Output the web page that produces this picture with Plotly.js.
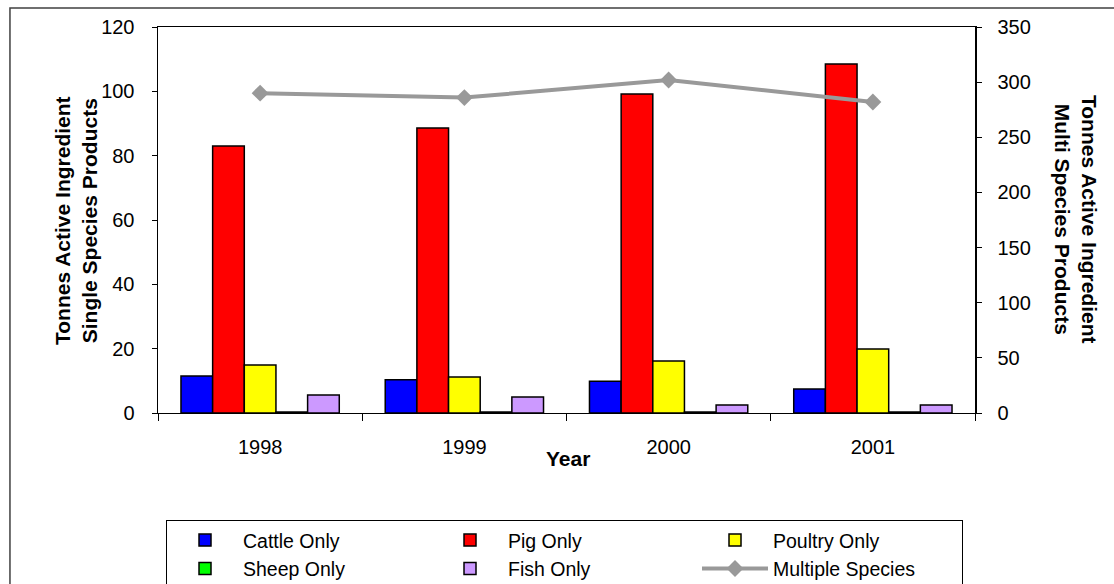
<!DOCTYPE html>
<html>
<head>
<meta charset="utf-8">
<script src="https://cdn.plot.ly/plotly-3.0.1.min.js"></script>
<style>html,body{margin:0;padding:0;background:#fff;}#chart{width:1114px;height:584px;}</style>
</head>
<body>
<div id="chart"></div>
<script>
var years = ['1998', '1999', '2000', '2001'];
var cattleOnly = [11.5, 10.3, 9.9, 7.5];
var pigOnly = [83.0, 88.6, 99.2, 108.5];
var poultryOnly = [14.9, 11.2, 16.2, 19.9];
var sheepOnly = [0.3, 0.3, 0.3, 0.3];
var fishOnly = [5.6, 5.0, 2.5, 2.5];
var multipleSpecies = [290, 286, 302, 282];

var leftTitle = 'Tonnes Active Ingredient<br>Single Species Products';
var rightTitle = 'Tonnes Active Ingredient<br>Multi Species Products';
var xTitle = 'Year';

function barTrace(name, vals, color) {
  return {
    type: 'bar', name: name, x: years, y: vals,
    marker: {color: color, line: {color: '#000000', width: 1.5}},
    yaxis: 'y'
  };
}

var data = [
  barTrace('Cattle Only', cattleOnly, '#0000FF'),
  barTrace('Pig Only', pigOnly, '#FF0000'),
  barTrace('Poultry Only', poultryOnly, '#FFFF00'),
  barTrace('Sheep Only', sheepOnly, '#00FF00'),
  barTrace('Fish Only', fishOnly, '#CC99FF'),
  {
    type: 'scatter', mode: 'lines+markers', name: 'Multiple Species',
    x: years, y: multipleSpecies, yaxis: 'y2',
    line: {color: '#999999', width: 4},
    marker: {symbol: 'diamond', size: 13, color: '#999999'}
  }
];

var F = 'Liberation Sans, Arial, sans-serif';

var layout = {
  width: 1114, height: 584,
  margin: {l: 158, r: 139, t: 27, b: 171, pad: 0, autoexpand: false},
  paper_bgcolor: '#ffffff', plot_bgcolor: '#ffffff',
  font: {family: F, size: 20, color: '#000000'},
  barmode: 'group', bargap: 0.225, bargroupgap: 0,
  showlegend: true,
  legend: {
    orientation: 'h', x: 0.0098, xanchor: 'left', y: -0.277, yanchor: 'top',
    itemwidth: 66,
    entrywidth: 184, entrywidthmode: 'pixels',
    bordercolor: '#000000', borderwidth: 1,
    font: {family: F, size: 19.5, color: '#000000'},
    traceorder: 'normal', tracegroupgap: 0
  },
  xaxis: {
    type: 'category', showgrid: false, zeroline: false,
    showline: true, linecolor: '#000000', linewidth: 1, mirror: true,
    ticks: 'outside', tickson: 'boundaries', ticklen: 7, tickcolor: '#000000',
    ticklabelstandoff: 16,
    tickfont: {family: F, size: 20, color: '#000000'}
  },
  yaxis: {
    range: [0, 120], dtick: 20, showgrid: false, zeroline: false,
    showline: true, linecolor: '#000000', linewidth: 1.5,
    ticks: 'outside', ticklen: 5, tickcolor: '#000000',
    ticklabelstandoff: 13,
    tickfont: {family: F, size: 20, color: '#000000'}
  },
  yaxis2: {
    range: [0, 350], dtick: 50, overlaying: 'y', side: 'right',
    showgrid: false, zeroline: false,
    showline: true, linecolor: '#000000', linewidth: 1.5,
    ticks: 'outside', ticklen: 5, tickcolor: '#000000',
    ticklabelstandoff: 12,
    tickfont: {family: F, size: 20, color: '#000000'}
  },
  annotations: [
    {text: '<b>' + leftTitle + '</b>', xref: 'paper', yref: 'paper',
     x: -0.1004, y: 0.5, xanchor: 'center', yanchor: 'middle', textangle: -90,
     showarrow: false, font: {family: F, size: 21, color: '#000000'}},
    {text: '<b>' + rightTitle + '</b>', xref: 'paper', yref: 'paper',
     x: 1.1236, y: 0.5, xanchor: 'center', yanchor: 'middle', textangle: 90,
     showarrow: false, font: {family: F, size: 21, color: '#000000'}},
    {text: '<b>' + xTitle + '</b>', xref: 'paper', yref: 'paper',
     x: 0.5019, y: -0.1166, xanchor: 'center', yanchor: 'middle',
     showarrow: false, font: {family: F, size: 21, color: '#000000'}}
  ],
  shapes: [
    {type: 'rect', xref: 'paper', yref: 'paper', layer: 'below',
     x0: -0.1812, x1: 1.177, y0: -0.4845, y1: 1.0492,
     line: {color: '#404040', width: 1.5}, fillcolor: 'rgba(0,0,0,0)'}
  ]
};

Plotly.newPlot('chart', data, layout, {displayModeBar: false, staticPlot: true});
</script>
</body>
</html>
